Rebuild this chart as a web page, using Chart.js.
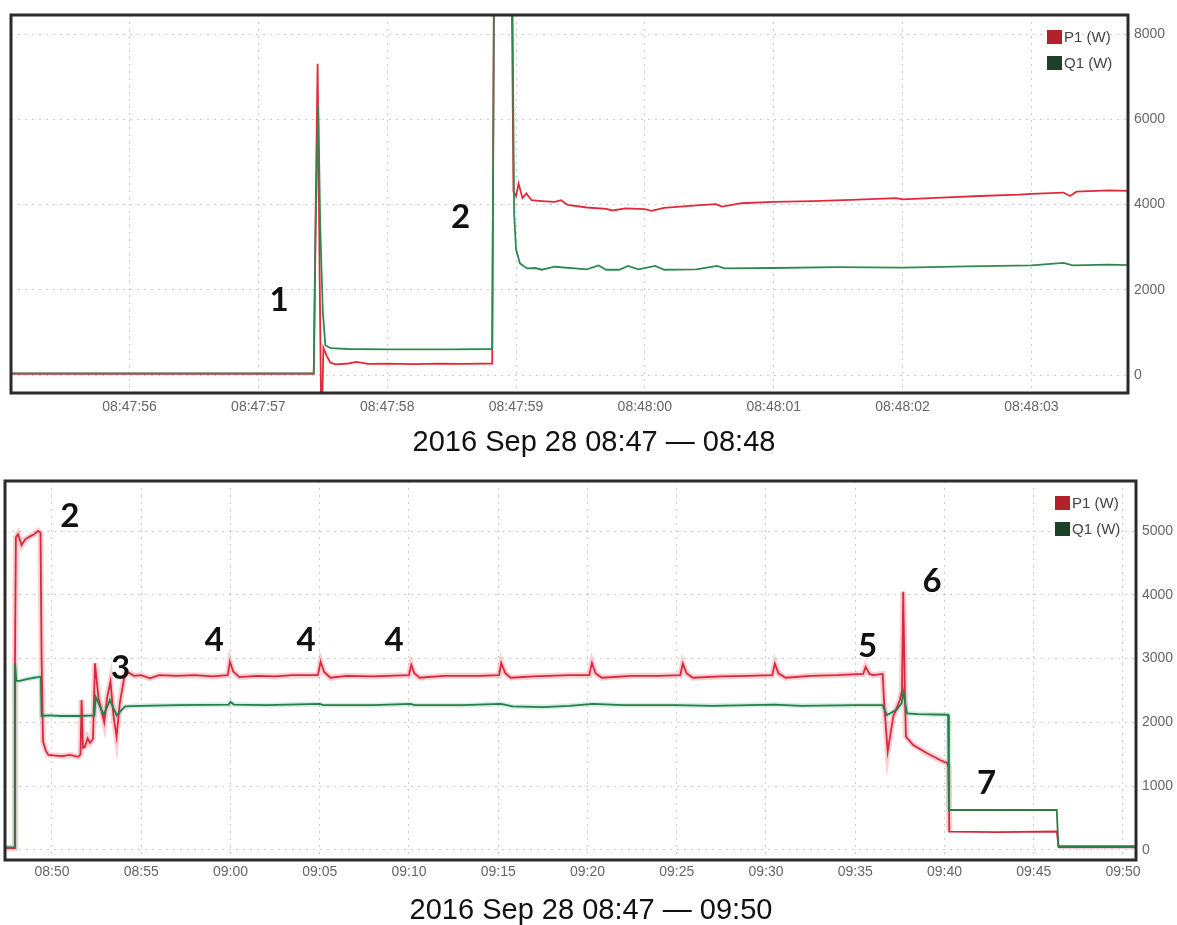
<!DOCTYPE html>
<html>
<head>
<meta charset="utf-8">
<script src="https://cdn.jsdelivr.net/npm/chart.js@4.4.1/dist/chart.umd.min.js"></script>
<style>
  html, body { margin: 0; padding: 0; background: #fff; }
  #wrap { position: relative; width: 1177px; height: 925px; }
  #c1 { position: absolute; left: 0; top: 0; }
  #c2 { position: absolute; left: 0; top: 465px; }
</style>
</head>
<body>
<div id="wrap">
  <canvas id="c1" width="1177" height="465"></canvas>
  <canvas id="c2" width="1177" height="460"></canvas>
</div>
<script>
// ---- top chart: seconds after 08:47:00 ----
var topTickSecs = [56, 57, 58, 59, 60, 61, 62, 63];
var topTickLabels = ['08:47:56', '08:47:57', '08:47:58', '08:47:59', '08:48:00', '08:48:01', '08:48:02', '08:48:03'];
var topYTicks = [0, 2000, 4000, 6000, 8000];

var topP1Time = [55.0, 57.43, 57.445, 57.46, 57.475, 57.49, 57.505, 57.53, 57.56, 57.6, 57.7, 57.76, 57.85, 58.0, 58.2, 58.4, 58.6, 58.815,
  58.83, 58.965, 58.98, 59.0, 59.02, 59.05, 59.08, 59.12, 59.2, 59.3, 59.35, 59.4, 59.55, 59.7, 59.75, 59.85, 60.0, 60.05, 60.15,
  60.4, 60.55, 60.6, 60.75, 61.0, 61.3, 61.6, 61.95, 62.0, 62.3, 62.6, 62.9, 63.0, 63.25, 63.3, 63.35, 63.6, 63.75];
var topP1 = [30, 30, 4000, 7300, 2500, -1500, 640, 450, 290, 250, 270, 310, 260, 265, 255, 265, 260, 270,
  9800, 9800, 4300, 4200, 4490, 4150, 4260, 4100, 4080, 4060, 4100, 3990, 3930, 3900, 3860, 3910, 3890, 3850, 3920,
  3980, 4010, 3950, 4030, 4060, 4080, 4110, 4150, 4120, 4160, 4200, 4230, 4250, 4280, 4200, 4300, 4330, 4320];

var topQ1Time = [55.0, 57.43, 57.445, 57.465, 57.48, 57.5, 57.52, 57.56, 57.7, 58.0, 58.5, 58.815,
  58.83, 58.97, 58.985, 59.0, 59.03, 59.085, 59.15, 59.2, 59.3, 59.55, 59.64, 59.7, 59.8, 59.87, 59.95,
  60.08, 60.15, 60.4, 60.56, 60.62, 61.0, 61.5, 62.0, 62.5, 63.0, 63.25, 63.32, 63.6, 63.75];
var topQ1 = [40, 40, 3500, 6330, 3500, 1500, 700, 630, 610, 600, 600, 610,
  9800, 9800, 3800, 2950, 2620, 2500, 2510, 2470, 2540, 2480, 2570, 2470, 2470, 2560, 2480,
  2560, 2470, 2480, 2560, 2500, 2510, 2530, 2520, 2550, 2570, 2630, 2570, 2590, 2580];

var topNoteText = ['1', '2'];
var topNoteX = [57.16, 58.57];
var topNoteY = [1760, 3707];

// ---- bottom chart: minutes after 08:00 ----
var botTickMins = [50, 55, 60, 65, 70, 75, 80, 85, 90, 95, 100, 105, 110];
var botTickLabels = ['08:50', '08:55', '09:00', '09:05', '09:10', '09:15', '09:20', '09:25', '09:30', '09:35', '09:40', '09:45', '09:50'];
var botYTicks = [0, 1000, 2000, 3000, 4000, 5000];

var botP1Time = [47.37, 47.88, 47.93, 47.98, 48.1, 48.3, 48.5, 48.8, 49.0, 49.23, 49.36, 49.42, 49.5, 49.65, 49.8, 50.2, 50.6, 51.0,
  51.47, 51.6, 51.66, 51.74, 51.85, 52.0, 52.13, 52.3, 52.41, 52.6, 52.93, 53.1, 53.28, 53.45, 53.62, 53.8, 54.09, 54.3, 54.6,
  55.0, 55.5, 56.0, 57.0, 58.0, 59.0, 59.85, 59.97, 60.15, 60.5, 61.5, 62.5, 63.5, 64.9, 65.05, 65.25, 65.6, 66.5, 68.0,
  70.0, 70.13, 70.3, 70.6, 72.0, 74.0, 75.05, 75.17, 75.4, 75.7, 77.0, 79.0, 80.1, 80.25, 80.45, 80.8, 82.5, 84.0,
  85.2, 85.34, 85.55, 85.9, 87.5, 89.0, 90.35, 90.5, 90.7, 91.1, 92.5, 94.0, 95.45, 95.58, 95.8, 96.0, 96.54,
  96.62, 96.82, 97.13, 97.5, 97.62, 97.69, 97.78, 97.84, 98.25, 99.0, 99.75, 100.16, 100.23, 100.27, 103.0, 106.29, 106.4, 110.73];
var botP1 = [30, 30, 3000, 4900, 4950, 4780, 4870, 4920, 4950, 5000, 4970, 3000, 1700, 1560, 1490, 1480, 1470, 1490,
  1460, 1500, 2350, 1600, 1620, 1750, 1680, 1740, 2925, 2400, 2000, 2400, 2640, 2100, 1776, 2300, 2769, 2780, 2730,
  2740, 2690, 2740, 2730, 2740, 2720, 2740, 2950, 2800, 2710, 2730, 2720, 2740, 2740, 2950, 2790, 2700, 2730, 2720,
  2740, 2900, 2770, 2700, 2730, 2730, 2740, 2930, 2770, 2700, 2720, 2740, 2740, 2930, 2770, 2700, 2730, 2730,
  2740, 2920, 2770, 2700, 2720, 2730, 2740, 2920, 2770, 2700, 2730, 2740, 2760, 2870, 2760, 2740, 2760,
  2300, 1541, 2090, 2351, 2500, 4049, 2500, 1776, 1646, 1520, 1411, 1360, 1300, 287, 280, 290, 40, 40];

var botQ1Time = [47.37, 47.88, 47.93, 48.0, 48.2, 48.6, 49.0, 49.38, 49.42, 49.8, 50.5, 51.5, 52.38, 52.45, 52.9, 53.25, 53.62, 54.1,
  55.0, 57.0, 59.9, 60.0, 60.2, 62.0, 65.0, 65.2, 68.0, 70.1, 70.3, 73.0, 75.15, 75.8, 77.5, 79.0, 80.3, 82.0, 85.0, 87.0,
  90.5, 92.0, 95.0, 96.54, 96.77, 97.3, 97.6, 97.69, 97.9, 98.5, 100.2, 100.25, 103.0, 106.29, 106.38, 110.73];
var botQ1 = [40, 40, 2930, 2650, 2650, 2680, 2700, 2716, 2100, 2110, 2100, 2100, 2110, 2400, 2120, 2350, 2110, 2250,
  2260, 2270, 2280, 2320, 2280, 2270, 2290, 2270, 2270, 2290, 2270, 2270, 2290, 2250, 2240, 2260, 2290, 2270, 2270, 2260,
  2280, 2260, 2270, 2270, 2116, 2194, 2300, 2481, 2142, 2130, 2120, 627, 627, 630, 60, 60];

var botNoteText = ['2', '3', '4', '4', '4', '5', '6', '7'];
var botNoteX = [51.0, 53.85, 59.09, 64.24, 69.17, 95.69, 99.3, 102.36];
var botNoteY = [5224, 2848, 3292, 3292, 3292, 3187, 4205, 1045];

function pts(xs, ys) {
  return xs.map(function (x, i) { return { x: x, y: ys[i] }; });
}

// frame, legend and the numbered notes
function makeDecor(notes) {
  return {
    id: 'decor',
    afterDraw: function (chart) {
      var ctx = chart.ctx, a = chart.chartArea;
      var xs = chart.scales.x, ys = chart.scales.y;
      ctx.save();
      ctx.fillStyle = '#111';
      ctx.font = 'bold 33px Lato, "Open Sans", sans-serif';
      ctx.textAlign = 'center';
      ctx.textBaseline = 'middle';
      notes.text.forEach(function (t, i) {
        ctx.fillText(t, xs.getPixelForValue(notes.x[i]), ys.getPixelForValue(notes.y[i]));
      });
      // legend
      ctx.font = '15px "Liberation Sans", Arial, sans-serif';
      ctx.textAlign = 'left';
      var row = 0;
      chart.data.datasets.forEach(function (ds) {
        if (!ds.legendColor) return;
        var y = a.top + 22 + row * 26;
        ctx.fillStyle = ds.legendColor;
        ctx.fillRect(a.right - 81, y - 7, 15, 14);
        ctx.fillStyle = '#444';
        ctx.fillText(ds.label, a.right - 64, y + 1);
        row++;
      });
      // frame
      ctx.strokeStyle = '#2b2b2b';
      ctx.lineWidth = 3;
      ctx.strokeRect(a.left, a.top, a.right - a.left, a.bottom - a.top);
      ctx.restore();
    }
  };
}

function makeChart(id, cfg) {
  var gridStyle = { color: 'rgba(0,0,0,0.2)', drawTicks: false };
  var borderStyle = { display: false, dash: [2, 5] };
  return new Chart(document.getElementById(id), {
    type: 'line',
    data: { datasets: cfg.datasets },
    options: {
      responsive: false,
      animation: false,
      parsing: false,
      layout: { padding: cfg.padding },
      elements: { point: { radius: 0 }, line: { tension: 0 } },
      plugins: {
        legend: { display: false },
        tooltip: { enabled: false },
        title: {
          display: true,
          position: 'bottom',
          text: cfg.title,
          color: '#111',
          font: { family: '"Liberation Sans", Arial, sans-serif', size: 29, weight: 'normal', lineHeight: 1 },
          padding: { top: 8, bottom: 0 }
        }
      },
      scales: {
        x: {
          type: 'linear',
          min: cfg.xMin, max: cfg.xMax,
          border: borderStyle,
          grid: gridStyle,
          afterBuildTicks: function (s) {
            s.ticks = cfg.xTicks.map(function (v) { return { value: v }; });
          },
          afterFit: function (s) { s.height = cfg.xHeight; },
          ticks: {
            padding: cfg.xPad, maxRotation: 0, autoSkip: false,
            color: '#666', font: { family: '"Liberation Sans", Arial, sans-serif', size: 14 },
            callback: function (v) { return cfg.xLabels[cfg.xTicks.indexOf(v)]; }
          }
        },
        y: {
          position: 'right',
          min: cfg.yMin, max: cfg.yMax,
          border: borderStyle,
          grid: gridStyle,
          afterBuildTicks: function (s) {
            s.ticks = cfg.yTicks.map(function (v) { return { value: v }; });
          },
          afterFit: function (s) { s.width = cfg.yWidth; },
          ticks: {
            padding: 6,
            color: '#666', font: { family: '"Liberation Sans", Arial, sans-serif', size: 14 },
            callback: function (v) { return String(v); }
          }
        }
      }
    },
    plugins: [makeDecor(cfg.notes)]
  });
}

makeChart('c1', {
  title: '2016 Sep 28 08:47 \u2014 08:48',
  padding: { left: 11, right: 0, top: 15, bottom: 8 },
  xMin: 55.08, xMax: 63.75, xTicks: topTickSecs, xLabels: topTickLabels, xHeight: 27, xPad: 6,
  yMin: -422, yMax: 8446, yTicks: topYTicks, yWidth: 49,
  notes: { text: topNoteText, x: topNoteX, y: topNoteY },
  datasets: [
    { label: 'P1 (W)', data: pts(topP1Time, topP1), borderColor: '#e2293b', borderWidth: 1.8, legendColor: '#b3222b', order: 2 },
    { label: 'Q1 (W)', data: pts(topQ1Time, topQ1), borderColor: '#2c8a52', borderWidth: 1.8, legendColor: '#1d4027', order: 1 }
  ]
});

var fadeAfter = function (col) {
  return function (c) { return c.p0.parsed.x > 100.24 ? 'rgba(0,0,0,0)' : col; };
};

makeChart('c2', {
  title: '2016 Sep 28 08:47 \u2014 09:50',
  padding: { left: 5, right: 0, top: 16, bottom: 0 },
  xMin: 47.37, xMax: 110.73, xTicks: botTickMins, xLabels: botTickLabels, xHeight: 28, xPad: 4,
  yMin: -157, yMax: 5784, yTicks: botYTicks, yWidth: 41,
  notes: { text: botNoteText, x: botNoteX, y: botNoteY },
  datasets: [
    { label: 'P1 (W)', data: pts(botP1Time, botP1), borderColor: '#d8283a', borderWidth: 1.8, legendColor: '#b3222b', order: 2 },
    { label: 'Q1 (W)', data: pts(botQ1Time, botQ1), borderColor: '#2a7c48', borderWidth: 1.8, legendColor: '#1d4027', order: 1 },
    { label: 'P1 band', data: pts(botP1Time, botP1), borderColor: 'rgba(240,120,135,0.35)', borderWidth: 6, order: 4,
      segment: { borderColor: fadeAfter('rgba(240,120,135,0.35)') } },
    { label: 'Q1 band', data: pts(botQ1Time, botQ1), borderColor: 'rgba(110,200,170,0.3)', borderWidth: 5, order: 3,
      segment: { borderColor: fadeAfter('rgba(110,200,170,0.3)') } }
  ]
});
</script>
</body>
</html>
